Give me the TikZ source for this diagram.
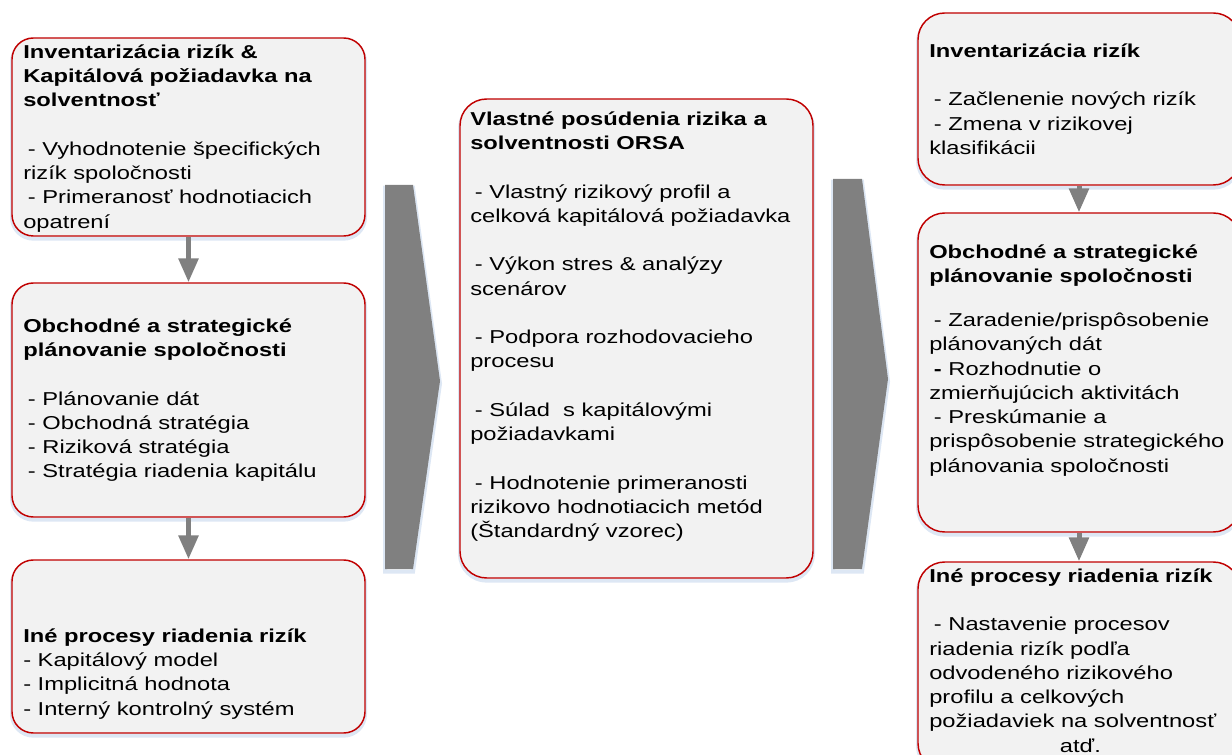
\documentclass[tikz,border=0pt]{standalone}
\usepackage{fontspec}
\setmainfont[FakeStretch=1.27]{Liberation Sans}
\usetikzlibrary{arrows.meta}
\definecolor{boxfill}{HTML}{F2F2F2}
\definecolor{boxline}{HTML}{C00000}
\definecolor{flow}{HTML}{808080}
\definecolor{haze}{HTML}{DDE7F4}
\newcommand\ind{\hspace*{0.25em}}
\newcommand\firstline{\rule{0pt}{14pt}}
\begin{document}
\begin{tikzpicture}[x=0.75pt,y=-0.75pt,
  stage/.style={draw=boxline, line width=1.1pt, fill=boxfill, inner sep=0pt,
    preaction={draw=haze, line width=3pt, transform canvas={yshift=-2pt}}},
  txt/.style={anchor=north west, inner sep=0pt, align=left,
    font=\fontsize{14}{18.2}\selectfont},
  flowarrow/.style={draw=flow, line width=3.75pt,
    -{Triangle[width=14.5pt,length=18pt]}},
  chevron/.style={fill=flow, preaction={draw=haze, line width=3pt, transform canvas={yshift=-2pt}}},
]
\useasboundingbox (0,0) rectangle (1232,755);
\clip (0,0) rectangle (1232,755);

% process chevrons
\fill[chevron] (385,185) -- (413,185) -- (440,381) -- (413,569) -- (385,569) -- cycle;
\fill[chevron] (833,179) -- (862,179) -- (888,379) -- (862,569) -- (833,569) -- cycle;

% left column
\node[stage, rounded corners=16pt, minimum width=264.75pt, minimum height=148.5pt] (l1) at (188.5,137) {};
\node[stage, rounded corners=16pt, minimum width=264.75pt, minimum height=175.5pt] (l2) at (188.5,400) {};
\node[stage, rounded corners=16pt, minimum width=264.75pt, minimum height=129.75pt] (l3) at (188.5,646.5) {};

% middle column
\node[stage, rounded corners=20pt, minimum width=264.75pt, minimum height=359.25pt] (m) at (636.5,338.5) {};

% right column
\node[stage, rounded corners=20pt, minimum width=241.5pt, minimum height=129pt] (r1) at (1079,99) {};
\node[stage, rounded corners=20pt, minimum width=241.5pt, minimum height=239.25pt] (r2) at (1079,372.5) {};
\node[stage, rounded corners=20pt, minimum width=241.5pt, minimum height=156pt] (r3) at (1079,666) {};

% connectors
\draw[flowarrow] (l1.south) -- (l2.north);
\draw[flowarrow] (l2.south) -- (l3.north);
\draw[flowarrow] (r1.south) -- (r2.north);
\draw[flowarrow] (r2.south) -- (r3.north);

% texts
\node[txt] (t-l1) at (23,39.3) {\firstline\textbf{Inventarizácia rizík \&}\\
  \textbf{Kapitálová požiadavka na}\\
  \textbf{solventnosť}\\[18.2pt]
  \ind- Vyhodnotenie špecifických\\
  rizík spoločnosti\\
  \ind- Primeranosť hodnotiacich\\
  opatrení};

\node[txt] (t-l2) at (23,313.3) {\firstline\textbf{Obchodné a strategické}\\
  \textbf{plánovanie spoločnosti}\\[18.2pt]
  \ind- Plánovanie dát\\
  \ind- Obchodná stratégia\\
  \ind- Riziková stratégia\\
  \ind- Stratégia riadenia kapitálu};

\node[txt] (t-l3) at (23,623.3) {\firstline\textbf{Iné procesy riadenia rizík}\\
  - Kapitálový model\\
  - Implicitná hodnota\\
  - Interný kontrolný systém};

\node[txt] (t-m) at (470,106.3) {\firstline\textbf{Vlastné posúdenia rizika a}\\
  \textbf{solventnosti ORSA}\\[18.2pt]
  \ind- Vlastný rizikový profil a\\
  celková kapitálová požiadavka\\[18.2pt]
  \ind- Výkon stres \& analýzy\\
  scenárov\\[18.2pt]
  \ind- Podpora rozhodovacieho\\
  procesu\\[18.2pt]
  \ind- Súlad\ \ s kapitálovými\\
  požiadavkami\\[18.2pt]
  \ind- Hodnotenie primeranosti\\
  rizikovo hodnotiacich metód\\
  (Štandardný vzorec)};

\node[txt] (t-r1) at (929,38.3) {\firstline\textbf{Inventarizácia rizík}\\[18.2pt]
  \ind- Začlenenie nových rizík\\
  \ind- Zmena v rizikovej\\
  klasifikácii};

\node[txt] (t-r2) at (929,239.3) {\firstline\textbf{Obchodné a strategické}\\
  \textbf{plánovanie spoločnosti}\\[14.8pt]
  \ind- Zaradenie/prispôsobenie\\
  plánovaných dát\\
  \ind\textbf{-} Rozhodnutie o\\
  zmierňujúcich aktivitách\\
  \ind- Preskúmanie a\\
  prispôsobenie strategického\\
  plánovania spoločnosti};

\node[txt] (t-r3) at (929,563.3) {\firstline\textbf{Iné procesy riadenia rizík}\\[18.2pt]
  \ind- Nastavenie procesov\\
  riadenia rizík podľa\\
  odvodeného rizikového\\
  profilu a celkových\\
  požiadaviek na solventnosť\\
  \hspace*{98pt}atď.};
\end{tikzpicture}
\end{document}
